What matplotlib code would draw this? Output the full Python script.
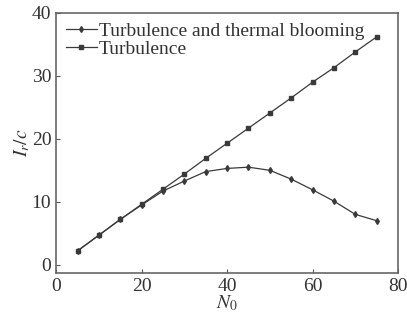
import matplotlib.pyplot as plt

plt.rcParams['font.family'] = 'Liberation Serif'
plt.rcParams['font.size'] = 11
plt.rcParams['mathtext.fontset'] = 'stix'

# Данные
n0 = [5, 10, 15, 20, 25, 30, 35, 40, 45, 50, 55, 60, 65, 70, 75]
turb_blooming = [2.2, 4.7, 7.2, 9.5, 11.7, 13.3, 14.8, 15.3, 15.5, 15.0, 13.6, 11.9, 10.1, 8.0, 7.0]
turb = [2.2, 4.7, 7.2, 9.6, 12.0, 14.4, 16.9, 19.3, 21.7, 24.1, 26.5, 29.0, 31.3, 33.8, 36.2]

fig = plt.figure(figsize=(4.07, 3.23), dpi=100)
ax = fig.add_axes([0.138, 0.155, 0.84, 0.805])

ax.plot(n0, turb_blooming, '-', color='#3a3a3a', lw=0.9, marker='d', ms=3,
        label='Turbulence and thermal blooming')
ax.plot(n0, turb, '-', color='#3a3a3a', lw=0.9, marker='s', ms=3,
        label='Turbulence')

ax.set_xlim(0, 80)
ax.set_ylim(-1.3, 40)
ax.set_xticks([0, 20, 40, 60, 80])
ax.set_yticks([0, 10, 20, 30, 40])
ax.tick_params(direction='in', length=3, colors='#555555', labelcolor='#333333', labelsize=14)
for s in ax.spines.values():
    s.set_color('#666666')
    s.set_linewidth(1.2)

ax.set_xlabel('$N_0$', fontsize=14, color='#333333', labelpad=-1)
ax.set_ylabel('$I_r/c$', fontsize=14, color='#333333', labelpad=0)

ax.legend(loc='upper left', frameon=False, fontsize=14, handlelength=1.6,
          handletextpad=0.1, labelspacing=0.0, borderaxespad=0.2,
          borderpad=0.3, labelcolor='#333333')

fig.savefig('out.png', dpi=100)
